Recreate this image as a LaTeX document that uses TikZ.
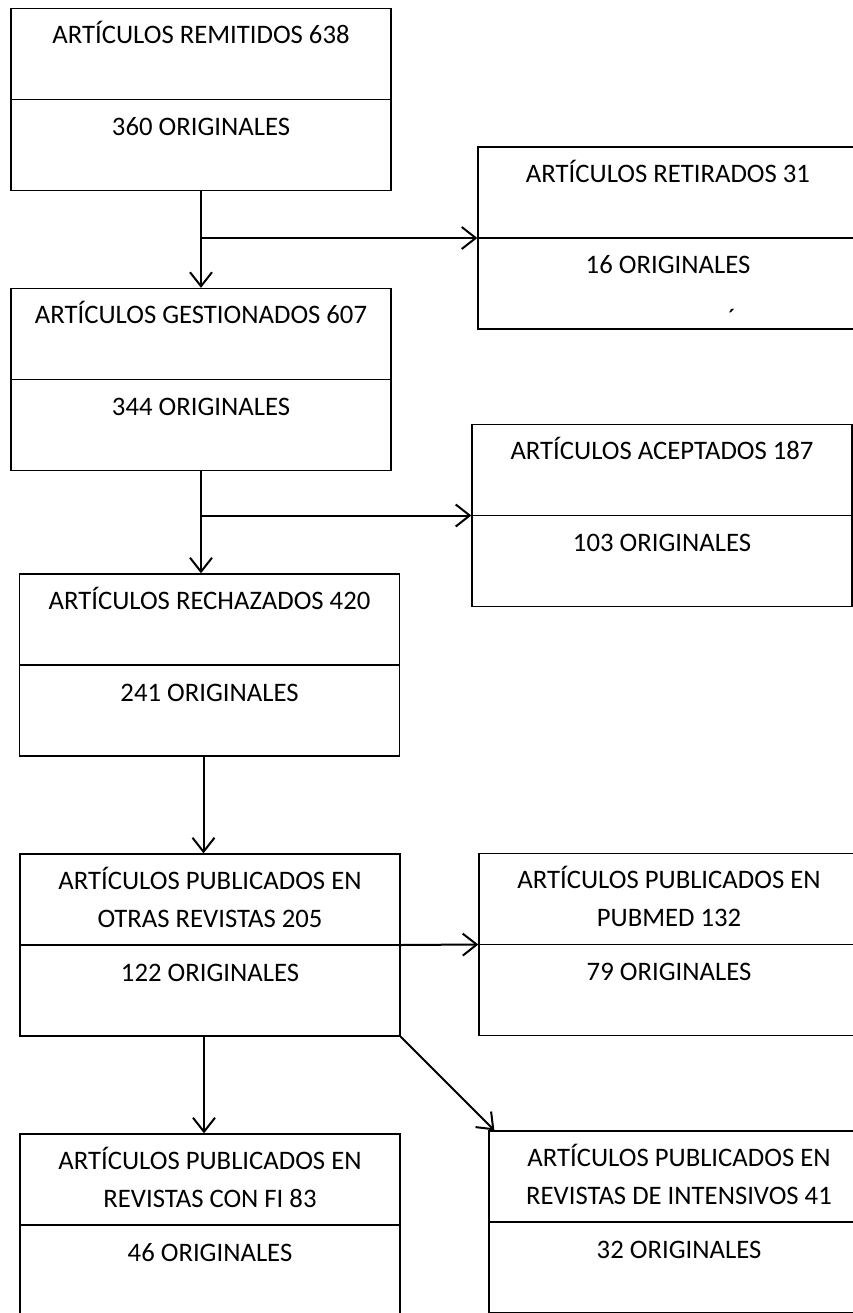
\documentclass[tikz,border=0pt]{standalone}
\usepackage{fontspec}
\setmainfont{Carlito}
\usetikzlibrary{arrows.meta}

\begin{document}
\begin{tikzpicture}[x=1pt, y=-1pt, line width=1.3pt,
    every node/.append style={font=\fontsize{26.7}{38}\selectfont},
    box/.style={draw, minimum width=380pt, minimum height=182pt, inner sep=0pt},
    txt/.style={anchor=base, inner sep=0pt, align=center},
    arr/.style={-{Straight Barb[length=14pt, width=22pt]}, line width=2pt}]
    \useasboundingbox (0,0) rectangle (853,1313);
    \node (remitidos)   [box] at (201,99.5) {};
    \node (retirados)   [box] at (668,238) {};
    \node (gestionados) [box] at (201,379.5) {};
    \node (aceptados)   [box] at (662,515.5) {};
    \node (rechazados)  [box] at (209.5,665) {};
    \node (otras)       [box] at (210,945) {};
    \node (pubmed)      [box] at (669,944.5) {};
    \node (conFI)       [box] at (210,1225) {};
    \node (intensivos)  [box] at (679,1222) {};
    \foreach \b in {remitidos,retirados,gestionados,aceptados,rechazados,otras,pubmed,conFI,intensivos}
      \draw (\b.west) -- (\b.east);
    \node (remitidosA)   [txt] at ([yshift=-36pt]remitidos.north) {ARTÍCULOS REMITIDOS 638};
    \node (remitidosB)   [txt] at ([yshift=-36pt]remitidos.center) {360 ORIGINALES};
    \node (retiradosA)   [txt] at ([yshift=-36pt]retirados.north) {ARTÍCULOS RETIRADOS 31};
    \node (retiradosB)   [txt] at ([yshift=-36pt]retirados.center) {16 ORIGINALES};
    \node (gestionadosA) [txt] at ([yshift=-36pt]gestionados.north) {ARTÍCULOS GESTIONADOS 607};
    \node (gestionadosB) [txt] at ([yshift=-36pt]gestionados.center) {344 ORIGINALES};
    \node (aceptadosA)   [txt] at ([yshift=-36pt]aceptados.north) {ARTÍCULOS ACEPTADOS 187};
    \node (aceptadosB)   [txt] at ([yshift=-36pt]aceptados.center) {103 ORIGINALES};
    \node (rechazadosA)  [txt] at ([yshift=-36pt]rechazados.north) {ARTÍCULOS RECHAZADOS 420};
    \node (rechazadosB)  [txt] at ([yshift=-36pt]rechazados.center) {241 ORIGINALES};
    \node (otrasA)       [txt] at ([yshift=-74pt]otras.north) {ARTÍCULOS PUBLICADOS EN\\OTRAS REVISTAS 205};
    \node (otrasB)       [txt] at ([yshift=-36pt]otras.center) {122 ORIGINALES};
    \node (pubmedA)      [txt] at ([yshift=-74pt]pubmed.north) {ARTÍCULOS PUBLICADOS EN\\PUBMED 132};
    \node (pubmedB)      [txt] at ([yshift=-36pt]pubmed.center) {79 ORIGINALES};
    \node (conFIA)       [txt] at ([yshift=-74pt]conFI.north) {ARTÍCULOS PUBLICADOS EN\\REVISTAS CON FI 83};
    \node (conFIB)       [txt] at ([yshift=-36pt]conFI.center) {46 ORIGINALES};
    \node (intensivosA)  [txt] at ([yshift=-74pt]intensivos.north) {ARTÍCULOS PUBLICADOS EN\\REVISTAS DE INTENSIVOS 41};
    \node (intensivosB)  [txt] at ([yshift=-36pt]intensivos.center) {32 ORIGINALES};
    \node (marca) [inner sep=0pt] at (732,318) {´};
    \draw[arr] (remitidos.south) -- (gestionados.north);
    \draw[arr] (remitidos.south |- retirados.west) -- (retirados.west);
    \draw[arr] (gestionados.south) -- (gestionados.south |- rechazados.north);
    \draw[arr] (gestionados.south |- aceptados.west) -- (aceptados.west);
    \draw[arr] ([xshift=-6pt]rechazados.south) -- ([xshift=-6pt]rechazados.south |- otras.north);
    \draw[arr] (otras.east) -- (pubmed.west);
    \draw[arr] ([xshift=-6pt]otras.south) -- ([xshift=-6pt]otras.south |- conFI.north);
    \draw[arr] (otras.south east) -- ([xshift=6pt]intensivos.north west);
\end{tikzpicture}
\end{document}
